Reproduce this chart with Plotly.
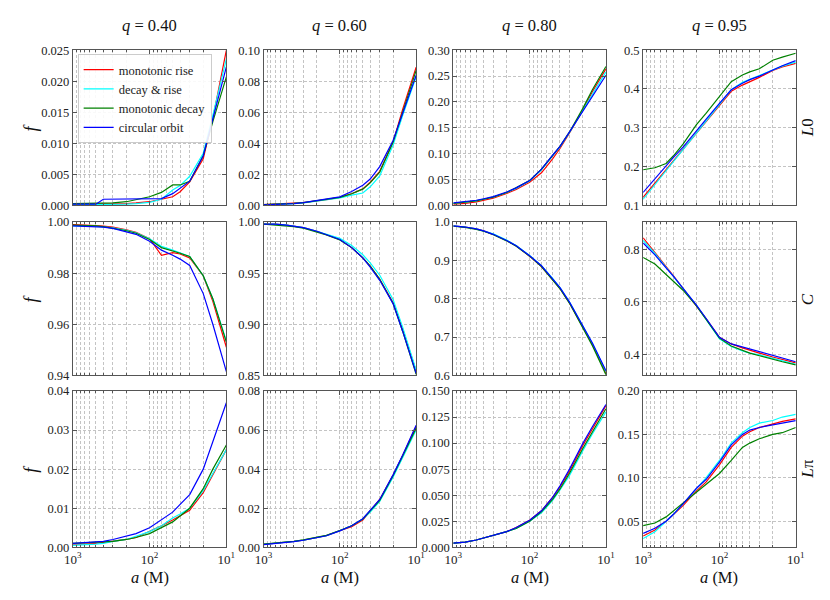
import plotly.graph_objects as go

# ---------------- data ----------------
a_M = [1000, 700, 500, 400, 300, 200, 150, 100, 70, 50, 40, 30, 20, 15, 10]
q_labels = ["0.40", "0.60", "0.80", "0.95"]
row_labels = ["<i>L</i>0", "<i>C</i>", "<i>L</i>π"]
series_names = ["monotonic rise", "decay & rise", "monotonic decay", "circular orbit"]
series_colors = ["#ff0000", "#00ffff", "#008000", "#0000ff"]

# L0 row
L0_q40_rise = [0.0002, 0.0002, 0.0002, 0.0002, 0.0002, 0.0003, 0.0004, 0.0006, 0.0010, 0.0014, 0.0022, 0.0038, 0.0075, 0.0140, 0.0250]
L0_q40_decrise = [0.0001, 0.0001, 0.0001, 0.0001, 0.0001, 0.0002, 0.0003, 0.0005, 0.0010, 0.0025, 0.0032, 0.0047, 0.0084, 0.0145, 0.0236]
L0_q40_decay = [0.0003, 0.0003, 0.0003, 0.0003, 0.0004, 0.0006, 0.0009, 0.0014, 0.0021, 0.0033, 0.0033, 0.0039, 0.0080, 0.0135, 0.0207]
L0_q40_circ = [0.0002, 0.0002, 0.0002, 0.0010, 0.0010, 0.0010, 0.0010, 0.0010, 0.0011, 0.0019, 0.0028, 0.0039, 0.0080, 0.0140, 0.0223]

L0_q60_rise = [0.0005, 0.0008, 0.0010, 0.0013, 0.0018, 0.0030, 0.0037, 0.0052, 0.0075, 0.0107, 0.0150, 0.0220, 0.0410, 0.0620, 0.0890]
L0_q60_decrise = [0.0004, 0.0006, 0.0008, 0.0012, 0.0017, 0.0028, 0.0034, 0.0048, 0.0066, 0.0080, 0.0120, 0.0190, 0.0390, 0.0580, 0.0828]
L0_q60_decay = [0.0006, 0.0008, 0.0010, 0.0013, 0.0018, 0.0030, 0.0037, 0.0052, 0.0075, 0.0105, 0.0145, 0.0215, 0.0410, 0.0600, 0.0870]
L0_q60_circ = [0.0004, 0.0006, 0.0008, 0.0012, 0.0018, 0.0031, 0.0038, 0.0055, 0.0090, 0.0130, 0.0170, 0.0250, 0.0420, 0.0590, 0.0838]

L0_q80_rise = [0.0025, 0.004, 0.007, 0.010, 0.014, 0.023, 0.031, 0.045, 0.063, 0.090, 0.110, 0.140, 0.185, 0.220, 0.264]
L0_q80_decrise = [0.004, 0.006, 0.009, 0.012, 0.016, 0.025, 0.033, 0.047, 0.069, 0.096, 0.113, 0.141, 0.184, 0.217, 0.258]
L0_q80_decay = [0.004, 0.006, 0.009, 0.012, 0.016, 0.025, 0.034, 0.048, 0.070, 0.097, 0.114, 0.142, 0.188, 0.224, 0.2685]
L0_q80_circ = [0.005, 0.007, 0.010, 0.013, 0.017, 0.026, 0.034, 0.048, 0.070, 0.097, 0.114, 0.142, 0.183, 0.213, 0.2515]

L0_q95_rise = [0.121, 0.158, 0.192, 0.215, 0.244, 0.286, 0.316, 0.357, 0.394, 0.410, 0.418, 0.430, 0.448, 0.457, 0.466]
L0_q95_decrise = [0.116, 0.154, 0.189, 0.213, 0.244, 0.287, 0.317, 0.360, 0.398, 0.417, 0.425, 0.434, 0.450, 0.459, 0.469]
L0_q95_decay = [0.192, 0.197, 0.208, 0.228, 0.258, 0.308, 0.337, 0.380, 0.419, 0.436, 0.444, 0.452, 0.474, 0.482, 0.492]
L0_q95_circ = [0.1335, 0.169, 0.202, 0.224, 0.250, 0.293, 0.322, 0.363, 0.398, 0.415, 0.424, 0.433, 0.450, 0.460, 0.473]

# C row
C_q40_rise = [0.9990, 0.9989, 0.9986, 0.9984, 0.9980, 0.9970, 0.9960, 0.9935, 0.9870, 0.9880, 0.9875, 0.9860, 0.9790, 0.9690, 0.9510]
C_q40_decrise = [0.9985, 0.9985, 0.9983, 0.9981, 0.9977, 0.9968, 0.9958, 0.9935, 0.9905, 0.9890, 0.9880, 0.9865, 0.9790, 0.9700, 0.9535]
C_q40_decay = [0.9988, 0.9987, 0.9985, 0.9982, 0.9976, 0.9966, 0.9956, 0.9932, 0.9900, 0.9888, 0.9878, 0.9865, 0.9790, 0.9700, 0.9530]
C_q40_circ = [0.9985, 0.9984, 0.9982, 0.9980, 0.9975, 0.9963, 0.9952, 0.9925, 0.9890, 0.9870, 0.9855, 0.9830, 0.9720, 0.9600, 0.9415]

C_q60_rise = [0.998, 0.998, 0.997, 0.996, 0.9945, 0.991, 0.988, 0.983, 0.975, 0.965, 0.957, 0.944, 0.921, 0.895, 0.854]
C_q60_decrise = [0.998, 0.998, 0.997, 0.996, 0.9945, 0.991, 0.988, 0.984, 0.977, 0.968, 0.960, 0.948, 0.924, 0.897, 0.855]
C_q60_decay = [0.998, 0.997, 0.9965, 0.9955, 0.994, 0.9905, 0.9875, 0.9825, 0.975, 0.965, 0.957, 0.944, 0.920, 0.893, 0.851]
C_q60_circ = [0.998, 0.998, 0.997, 0.996, 0.9945, 0.991, 0.988, 0.983, 0.975, 0.965, 0.956, 0.943, 0.920, 0.893, 0.852]

C_q80_rise = [0.990, 0.987, 0.982, 0.977, 0.968, 0.952, 0.938, 0.911, 0.884, 0.850, 0.827, 0.789, 0.727, 0.680, 0.606]
C_q80_decrise = [0.990, 0.987, 0.982, 0.977, 0.969, 0.953, 0.939, 0.913, 0.886, 0.853, 0.829, 0.791, 0.729, 0.683, 0.610]
C_q80_decay = [0.989, 0.986, 0.981, 0.976, 0.967, 0.951, 0.937, 0.911, 0.884, 0.850, 0.826, 0.788, 0.725, 0.677, 0.602]
C_q80_circ = [0.990, 0.987, 0.982, 0.977, 0.968, 0.952, 0.938, 0.912, 0.886, 0.852, 0.829, 0.791, 0.730, 0.684, 0.612]

C_q95_rise = [0.845, 0.790, 0.735, 0.700, 0.652, 0.587, 0.537, 0.465, 0.440, 0.425, 0.415, 0.405, 0.390, 0.380, 0.368]
C_q95_decrise = [0.835, 0.785, 0.732, 0.698, 0.652, 0.587, 0.535, 0.460, 0.430, 0.413, 0.405, 0.398, 0.385, 0.375, 0.362]
C_q95_decay = [0.770, 0.745, 0.705, 0.680, 0.645, 0.585, 0.535, 0.462, 0.432, 0.415, 0.405, 0.395, 0.380, 0.372, 0.360]
C_q95_circ = [0.825, 0.780, 0.730, 0.698, 0.652, 0.588, 0.538, 0.465, 0.440, 0.428, 0.420, 0.410, 0.395, 0.385, 0.372]

# L_pi row
Lpi_q40_rise = [0.0008, 0.0008, 0.0010, 0.0012, 0.0015, 0.0020, 0.0025, 0.0040, 0.0055, 0.0070, 0.0080, 0.0095, 0.0140, 0.0185, 0.0250]
Lpi_q40_decrise = [0.0005, 0.0006, 0.0008, 0.0010, 0.0015, 0.0020, 0.0028, 0.0040, 0.0055, 0.0075, 0.0085, 0.0100, 0.0145, 0.0190, 0.0250]
Lpi_q40_decay = [0.0010, 0.0011, 0.0012, 0.0013, 0.0015, 0.0020, 0.0025, 0.0035, 0.0050, 0.0065, 0.0080, 0.0100, 0.0150, 0.0200, 0.0262]
Lpi_q40_circ = [0.0010, 0.0012, 0.0013, 0.0015, 0.0020, 0.0028, 0.0035, 0.0050, 0.0070, 0.0090, 0.0110, 0.0135, 0.0200, 0.0270, 0.0370]

Lpi_q60_rise = [0.0015, 0.0020, 0.0025, 0.0030, 0.0037, 0.0050, 0.0060, 0.0085, 0.0105, 0.0140, 0.0185, 0.0245, 0.0370, 0.0470, 0.0620]
Lpi_q60_decrise = [0.0015, 0.0020, 0.0025, 0.0030, 0.0037, 0.0050, 0.0060, 0.0085, 0.0110, 0.0145, 0.0180, 0.0235, 0.0360, 0.0460, 0.0600]
Lpi_q60_decay = [0.0016, 0.0021, 0.0026, 0.0031, 0.0038, 0.0051, 0.0061, 0.0086, 0.0110, 0.0145, 0.0185, 0.0240, 0.0368, 0.0465, 0.0610]
Lpi_q60_circ = [0.0014, 0.0019, 0.0024, 0.0029, 0.0036, 0.0049, 0.0059, 0.0084, 0.0110, 0.0146, 0.0188, 0.0245, 0.0372, 0.0472, 0.0625]

Lpi_q80_rise = [0.004, 0.005, 0.007, 0.009, 0.011, 0.015, 0.019, 0.026, 0.035, 0.048, 0.058, 0.073, 0.098, 0.114, 0.136]
Lpi_q80_decrise = [0.004, 0.005, 0.007, 0.009, 0.011, 0.015, 0.018, 0.025, 0.033, 0.045, 0.055, 0.069, 0.093, 0.109, 0.130]
Lpi_q80_decay = [0.004, 0.005, 0.007, 0.009, 0.011, 0.015, 0.018, 0.025, 0.034, 0.046, 0.056, 0.071, 0.095, 0.111, 0.133]
Lpi_q80_circ = [0.004, 0.005, 0.007, 0.009, 0.011, 0.015, 0.019, 0.026, 0.035, 0.048, 0.059, 0.075, 0.100, 0.116, 0.137]

Lpi_q95_rise = [0.033, 0.040, 0.050, 0.058, 0.068, 0.085, 0.095, 0.115, 0.135, 0.148, 0.153, 0.158, 0.162, 0.165, 0.168]
Lpi_q95_decrise = [0.030, 0.038, 0.050, 0.058, 0.070, 0.088, 0.100, 0.120, 0.140, 0.152, 0.158, 0.163, 0.166, 0.170, 0.173]
Lpi_q95_decay = [0.045, 0.048, 0.055, 0.062, 0.070, 0.083, 0.092, 0.105, 0.120, 0.135, 0.140, 0.145, 0.150, 0.152, 0.158]
Lpi_q95_circ = [0.036, 0.042, 0.050, 0.058, 0.070, 0.088, 0.098, 0.118, 0.138, 0.150, 0.155, 0.158, 0.161, 0.163, 0.166]

panels = [
    [(L0_q40_rise, L0_q40_decrise, L0_q40_decay, L0_q40_circ),
     (L0_q60_rise, L0_q60_decrise, L0_q60_decay, L0_q60_circ),
     (L0_q80_rise, L0_q80_decrise, L0_q80_decay, L0_q80_circ),
     (L0_q95_rise, L0_q95_decrise, L0_q95_decay, L0_q95_circ)],
    [(C_q40_rise, C_q40_decrise, C_q40_decay, C_q40_circ),
     (C_q60_rise, C_q60_decrise, C_q60_decay, C_q60_circ),
     (C_q80_rise, C_q80_decrise, C_q80_decay, C_q80_circ),
     (C_q95_rise, C_q95_decrise, C_q95_decay, C_q95_circ)],
    [(Lpi_q40_rise, Lpi_q40_decrise, Lpi_q40_decay, Lpi_q40_circ),
     (Lpi_q60_rise, Lpi_q60_decrise, Lpi_q60_decay, Lpi_q60_circ),
     (Lpi_q80_rise, Lpi_q80_decrise, Lpi_q80_decay, Lpi_q80_circ),
     (Lpi_q95_rise, Lpi_q95_decrise, Lpi_q95_decay, Lpi_q95_circ)],
]

# y-axis settings per panel: (range, dtick, format)
y_settings = [
    [([0, 0.025], 0.005, ".3f"), ([0, 0.10], 0.02, ".2f"), ([0, 0.30], 0.05, ".2f"), ([0.1, 0.5], 0.1, ".1f")],
    [([0.94, 1.0], 0.02, ".2f"), ([0.85, 1.0], 0.05, ".2f"), ([0.6, 1.0], 0.1, ".1f"), ([0.32, 0.905], 0.2, ".1f")],
    [([0, 0.04], 0.01, ".2f"), ([0, 0.08], 0.02, ".2f"), ([0, 0.150], 0.025, ".3f"), ([0.02, 0.20], 0.05, ".2f")],
]

x_major = [1000, 100, 10]
x_major_text = ["10<sup>3</sup>", "10<sup>2</sup>", "10<sup>1</sup>"]
x_minor = [900, 800, 700, 600, 500, 400, 300, 200, 90, 80, 70, 60, 50, 40, 30, 20]

# ---------------- layout ----------------
W, H = 830, 600
col_px = [(57, 214), (252, 408), (446, 602), (640, 796)]
row_px = [(36, 195), (212, 369), (385, 545)]
FONT = "Liberation Serif"
frame = "#555555"
gridc = "#c4c4c4"
gdash = "3px,2px"

fig = go.Figure()
layout = dict(
    width=W, height=H, margin=dict(l=0, r=0, t=0, b=0),
    paper_bgcolor="white", plot_bgcolor="white",
    font=dict(family=FONT, size=12, color="#222"),
    showlegend=True,
    legend=dict(x=62 / W, y=1 - 40 / H, xanchor="left", yanchor="top",
                bgcolor="rgba(255,255,255,0.9)", bordercolor="#cccccc", borderwidth=1,
                font=dict(family=FONT, size=12.5, color="#222"), tracegroupgap=0,
                itemwidth=30),
)
annotations = []

for r in range(3):
    for c in range(4):
        idx = r * 4 + c + 1
        xn = "x" if idx == 1 else f"x{idx}"
        yn = "y" if idx == 1 else f"y{idx}"
        xk = "xaxis" if idx == 1 else f"xaxis{idx}"
        yk = "yaxis" if idx == 1 else f"yaxis{idx}"
        x0, x1 = col_px[c]
        y0, y1 = row_px[r]
        yr, dt, fmt = y_settings[r][c]
        layout[xk] = dict(
            domain=[x0 / W, x1 / W], anchor=yn, type="log", range=[3, 1], autorange=False,
            tickmode="array", tickvals=x_major,
            ticktext=x_major_text if r == 2 else [""] * 3,
            showticklabels=(r == 2),
            ticks="inside", ticklen=4, tickcolor=frame,
            showline=True, linecolor=frame, linewidth=1, mirror="ticks",
            showgrid=True, gridcolor=gridc, griddash=gdash, gridwidth=0.8,
            zeroline=False,
            tickfont=dict(family=FONT, size=13),
            minor=dict(tickmode="array", tickvals=x_minor, ticks="inside", ticklen=2,
                       tickcolor=frame, showgrid=True, gridcolor=gridc, griddash=gdash, gridwidth=0.8),
        )
        layout[yk] = dict(
            domain=[1 - y1 / H, 1 - y0 / H], anchor=xn, range=yr, autorange=False,
            tick0=0, dtick=dt, tickformat=fmt,
            ticks="inside", ticklen=4, tickcolor=frame,
            showline=True, linecolor=frame, linewidth=1, mirror="ticks",
            showgrid=True, gridcolor=gridc, griddash=gdash, gridwidth=0.8,
            zeroline=False, tickfont=dict(family=FONT, size=12.5),
        )
        for s in range(4):
            fig.add_trace(go.Scatter(
                x=a_M, y=panels[r][c][s], mode="lines", name=series_names[s],
                line=dict(color=series_colors[s], width=1.2),
                xaxis=xn, yaxis=yn, showlegend=(idx == 1), legendgroup=series_names[s],
            ))

# column titles and x labels
for c in range(4):
    x0, x1 = col_px[c]
    annotations.append(dict(text=f"<i>q</i> = {q_labels[c]}", x=(x0 + x1) / 2 / W, y=1 - 23 / H,
                            xref="paper", yref="paper", xanchor="center", yanchor="bottom",
                            showarrow=False, font=dict(family=FONT, size=16.5, color="#111")))
    annotations.append(dict(text="<i>a</i> (M)", x=(x0 + x1) / 2 / W, y=1 - 576 / H,
                            xref="paper", yref="paper", xanchor="center", yanchor="middle",
                            showarrow=False, font=dict(family=FONT, size=16.5, color="#111")))
# row labels and y labels
for r in range(3):
    y0, y1 = row_px[r]
    annotations.append(dict(text=row_labels[r], x=808 / W, y=1 - (y0 + y1) / 2 / H,
                            xref="paper", yref="paper", xanchor="center", yanchor="middle",
                            textangle=-90, showarrow=False,
                            font=dict(family=FONT, size=17, color="#111")))
    annotations.append(dict(text="<i>f</i>", x=14 / W, y=1 - (y0 + y1) / 2 / H,
                            xref="paper", yref="paper", xanchor="center", yanchor="middle",
                            textangle=-90, showarrow=False,
                            font=dict(family=FONT, size=18, color="#111")))

layout["annotations"] = annotations
fig.update_layout(**layout)
fig.write_html("out.html")
